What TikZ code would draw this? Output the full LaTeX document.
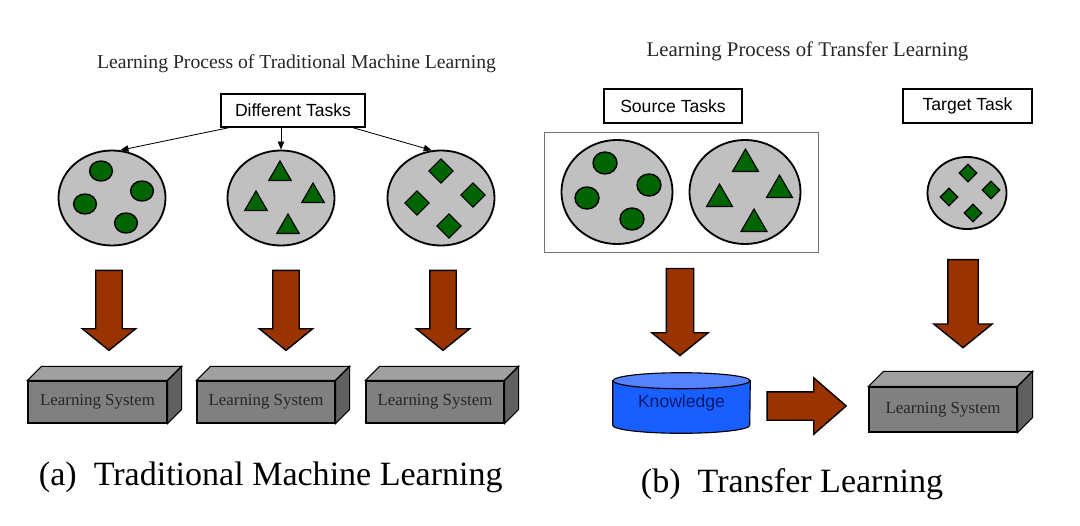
\documentclass[tikz,border=0pt]{standalone}
\usepackage{fontspec}
\setmainfont{Liberation Serif}
\newfontfamily\arialfont{Liberation Sans}
\usetikzlibrary{shapes.geometric,shapes.arrows,arrows.meta,backgrounds}
\definecolor{bagc}{RGB}{192,192,192}
\definecolor{leaf}{RGB}{0,100,0}
\definecolor{rust}{RGB}{153,51,0}
\definecolor{front}{RGB}{128,128,128}
\definecolor{topside}{RGB}{160,160,160}
\definecolor{darkside}{RGB}{96,96,96}
\definecolor{kbody}{RGB}{25,95,255}
\definecolor{ktop}{RGB}{85,130,255}
\definecolor{knavy}{RGB}{10,25,110}

\begin{document}
\begin{tikzpicture}[x=0.025cm, y=-0.025cm,
    task/.style = {draw, line width=1pt, font=\arialfont\fontsize{12.5}{14}\selectfont, inner sep=0pt},
    bag/.style = {draw, ellipse, fill=bagc, line width=1.3pt, inner sep=0pt},
    dot/.style = {draw, ellipse, fill=leaf, line width=1pt, minimum width=0.57cm, minimum height=0.5cm, inner sep=0pt},
    tri/.style = {draw, regular polygon, regular polygon sides=3, fill=leaf, line width=0.8pt, minimum size=0.65cm, inner sep=0pt},
    dia/.style = {draw, diamond, fill=leaf, line width=0.8pt, minimum size=0.62cm, inner sep=0pt},
    block/.style = {draw, line width=1pt, single arrow, fill=rust, inner xsep=0pt},
    down/.style = {block, rotate=-90, single arrow tip angle=102},
    sys/.style = {draw, line width=0.8pt, fill=front, inner sep=0pt, font=\fontsize{12}{14}\selectfont, text=black!85},
    title/.style = {anchor=base, text=black!85},
    caption/.style = {anchor=base west, font=\fontsize{24.2}{28}\selectfont}]
    \useasboundingbox (0,0) rectangle (1080,526);

    % traditional machine learning
    \node[title, font=\fontsize{14}{16}\selectfont] (t1) at (296.5,68) {Learning Process of Traditional Machine Learning};
    \node[task, minimum width=3.6cm, minimum height=0.825cm] (dt) at (293,110.5) {Different Tasks};
    \node[bag, minimum width=2.675cm, minimum height=2.375cm] (e1) at (112,198) {};
    \node[bag, minimum width=2.675cm, minimum height=2.375cm] (e2) at (281,198) {};
    \node[bag, minimum width=2.675cm, minimum height=2.375cm] (e3) at (441,198) {};
    \draw[-{Triangle[length=2mm,width=1.6mm]}, line width=0.6pt] (dt.195) -- (e1.80);
    \draw[-{Triangle[length=2mm,width=1.6mm]}, line width=0.6pt] (dt.south -| e2) -- (e2.north);
    \draw[-{Triangle[length=2mm,width=1.6mm]}, line width=0.6pt] (dt.-16) -- (e3.101);
    \node[dot] (c1) at (101,171) {};
    \node[dot] (c2) at (142,191) {};
    \node[dot] (c3) at (85,204) {};
    \node[dot] (c4) at (126,223) {};
    \node[tri] (p1) at (280,174) {};
    \node[tri] (p2) at (313,196) {};
    \node[tri] (p3) at (256,204) {};
    \node[tri] (p4) at (288,227) {};
    \node[dia] (q1) at (441,171) {};
    \node[dia] (q2) at (473,195) {};
    \node[dia] (q3) at (417,203) {};
    \node[dia] (q4) at (449,226) {};
    \node[down, minimum height=2cm, inner ysep=0.3125cm, single arrow head extend=0.3375cm] (a1) at (109,305) {};
    \node[down, minimum height=2cm, inner ysep=0.3125cm, single arrow head extend=0.3375cm] (a2) at (286,305) {};
    \node[down, minimum height=2cm, inner ysep=0.3125cm, single arrow head extend=0.3375cm] (a3) at (443,305) {};
    \node[sys, minimum width=3.475cm, minimum height=1.05cm] (l1) at (97.5,402) {Learning System};
    \node[sys, minimum width=3.45cm, minimum height=1.05cm] (l2) at (266,402) {Learning System};
    \node[sys, minimum width=3.45cm, minimum height=1.05cm] (l3) at (435,402) {Learning System};
    \node[caption] (ca) at (34,485) {(a)~~Traditional Machine Learning};

    % transfer learning
    \node[title, font=\fontsize{14.8}{17}\selectfont] (t2) at (807.5,56) {Learning Process of Transfer Learning};
    \node[task, minimum width=3.45cm, minimum height=0.85cm] (st) at (673,106) {Source Tasks};
    \node[task, minimum width=3.225cm, minimum height=0.85cm] (tt) at (967.5,106) {Target Task};
    \node[draw=black!55, line width=0.6pt, minimum width=6.85cm, minimum height=3cm] (src) at (681,192) {};
    \node[bag, minimum width=2.775cm, minimum height=2.6cm] (e4) at (617,192) {};
    \node[bag, minimum width=2.775cm, minimum height=2.6cm] (e5) at (745,192) {};
    \node[bag, minimum width=1.975cm, minimum height=1.8cm] (e6) at (967,193) {};
    \node[dot, minimum width=0.6cm, minimum height=0.55cm] (c5) at (605,163) {};
    \node[dot, minimum width=0.6cm, minimum height=0.55cm] (c6) at (649,185) {};
    \node[dot, minimum width=0.6cm, minimum height=0.55cm] (c7) at (587,198) {};
    \node[dot, minimum width=0.6cm, minimum height=0.55cm] (c8) at (632,219) {};
    \node[tri, minimum size=0.75cm] (p5) at (745.5,164) {};
    \node[tri, minimum size=0.75cm] (p6) at (779.5,190) {};
    \node[tri, minimum size=0.75cm] (p7) at (719.5,199) {};
    \node[tri, minimum size=0.75cm] (p8) at (754,224) {};
    \node[dia, minimum size=0.45cm] (q5) at (968,173) {};
    \node[dia, minimum size=0.45cm] (q6) at (991,190) {};
    \node[dia, minimum size=0.45cm] (q7) at (949,197) {};
    \node[dia, minimum size=0.45cm] (q8) at (973,213) {};
    \node[down, minimum height=2.175cm, inner ysep=0.325cm, single arrow head extend=0.3625cm] (a4) at (680,306.5) {};
    \node[down, minimum height=2.2cm, inner ysep=0.3625cm, single arrow head extend=0.35cm] (a5) at (963,297.5) {};
    \node[minimum width=3.425cm, minimum height=1.1cm, text=knavy, font=\arialfont\fontsize{12.5}{14}\selectfont] (kn) at (681.5,403) {Knowledge};
    \begin{scope}[on background layer]
        \draw[line width=0.8pt, fill=kbody] (kn.north west) -- (kn.south west) arc[start angle=180, end angle=360, x radius=1.7125cm, y radius=0.2cm] -- (kn.north east) -- cycle;
        \draw[line width=0.8pt, fill=ktop] (kn.north) ellipse[x radius=1.7125cm, y radius=0.2cm];
    \end{scope}
    \node[block, minimum height=1.975cm, inner ysep=0.3375cm, single arrow head extend=0.35cm, single arrow tip angle=82] (r1) at (798.5,406) {};
    \node[sys, minimum width=3.7cm, minimum height=1.125cm] (l4) at (943,409.5) {Learning System};
    \node[caption] (cb) at (636,492) {(b)~~Transfer Learning};

    % faces of the boxes
    \foreach \n/\d in {l1/14, l2/14, l3/14, l4/15} {
        \draw[line width=0.8pt, fill=topside] (\n.north west) -- ++(\d,-\d) -- ([shift={(\d,-\d)}]\n.north east) -- (\n.north east) -- cycle;
        \draw[line width=0.8pt, fill=darkside] (\n.north east) -- ++(\d,-\d) -- ([shift={(\d,-\d)}]\n.south east) -- (\n.south east) -- cycle;
    }
\end{tikzpicture}
\end{document}
